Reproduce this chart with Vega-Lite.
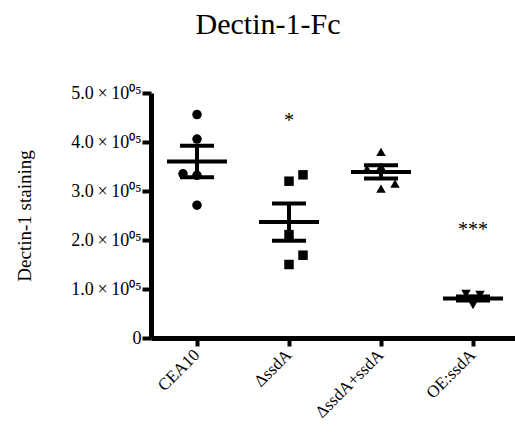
{
  "$schema": "https://vega.github.io/schema/vega-lite/v6.json",
  "width": 368,
  "height": 245,
  "padding": {"left": 15, "top": 10, "right": 0, "bottom": 5},
  "title": {"text": "Dectin-1-Fc", "font": "Liberation Serif", "fontSize": 30, "fontWeight": "normal", "color": "black", "anchor": "middle", "dx": -67, "offset": 44},
  "config": {
    "view": {"stroke": null},
    "axis": {"domainWidth": 5, "domainColor": "black", "tickWidth": 4, "tickColor": "black", "tickSize": 9, "labelPadding": 1, "grid": false, "labelFont": "Liberation Serif", "labelFontSize": 17, "labelColor": "black", "titleFont": "Liberation Serif", "titleFontSize": 19, "titleFontWeight": "normal", "titleColor": "black"}
  },
  "datasets": {
    "points": [
      {"group": "CEA10", "value": 456000, "col": "C"},
      {"group": "CEA10", "value": 406000, "col": "C"},
      {"group": "CEA10", "value": 335000, "col": "L"},
      {"group": "CEA10", "value": 332000, "col": "C"},
      {"group": "CEA10", "value": 271000, "col": "C"},
      {"group": "ΔssdA", "value": 320000, "col": "C"},
      {"group": "ΔssdA", "value": 333000, "col": "R"},
      {"group": "ΔssdA", "value": 211000, "col": "C"},
      {"group": "ΔssdA", "value": 169000, "col": "R"},
      {"group": "ΔssdA", "value": 150000, "col": "C"},
      {"group": "ΔssdA+ssdA", "value": 380000, "col": "C"},
      {"group": "ΔssdA+ssdA", "value": 345000, "col": "L"},
      {"group": "ΔssdA+ssdA", "value": 350000, "col": "C"},
      {"group": "ΔssdA+ssdA", "value": 315000, "col": "R"},
      {"group": "ΔssdA+ssdA", "value": 305000, "col": "C"},
      {"group": "OE:ssdA", "value": 90000, "col": "l"},
      {"group": "OE:ssdA", "value": 88000, "col": "r"},
      {"group": "OE:ssdA", "value": 67000, "col": "C"},
      {"group": "OE:ssdA", "value": 80000, "col": "C"},
      {"group": "OE:ssdA", "value": 78000, "col": "C"}
    ],
    "stars": [
      {"group": "ΔssdA", "value": 443000, "label": "*"},
      {"group": "OE:ssdA", "value": 220000, "label": "***"}
    ]
  },
  "encoding": {
    "x": {"field": "group", "type": "nominal", "sort": ["CEA10", "ΔssdA", "ΔssdA+ssdA", "OE:ssdA"],
      "scale": {"domain": ["CEA10", "ΔssdA", "ΔssdA+ssdA", "OE:ssdA"], "paddingInner": 0, "paddingOuter": 0},
      "axis": {"title": null, "labelAngle": -45, "labelAlign": "right", "labelBaseline": "middle", "labelPadding": 6, "tickSize": 8}},
    "y": {"field": "value", "type": "quantitative",
      "scale": {"domain": [0, 500000], "nice": false},
      "axis": {"title": "Dectin-1 staining", "titlePadding": 36, "labelFontSize": 18, "values": [0, 100000, 200000, 300000, 400000, 500000],
        "labelExpr": "datum.value == 0 ? '0' : format(datum.value/100000, '.1f') + '\u2009×\u200910⁰⁵'"}}
  },
  "layer": [
    {
      "data": {"name": "points"},
      "mark": {"type": "point", "filled": true, "color": "black", "opacity": 1, "size": 90},
      "encoding": {
        "xOffset": {"field": "col", "type": "nominal", "scale": {"type": "point", "domain": ["L", "l", "C", "r", "R"], "range": [32, 60], "padding": 0}},
        "shape": {"field": "group", "type": "nominal", "legend": null,
          "scale": {"domain": ["CEA10", "ΔssdA", "ΔssdA+ssdA", "OE:ssdA"], "range": ["circle", "square", "triangle-up", "triangle-down"]}}
      }
    },
    {
      "data": {"name": "points"},
      "mark": {"type": "tick", "color": "black", "size": 60, "thickness": 4, "opacity": 1},
      "encoding": {"y": {"aggregate": "mean", "field": "value", "type": "quantitative"}}
    },
    {
      "data": {"name": "points"},
      "mark": {"type": "errorbar", "extent": "stderr", "color": "black", "opacity": 1, "ticks": {"size": 34, "thickness": 4, "color": "black", "opacity": 1}, "rule": {"strokeWidth": 4, "color": "black", "opacity": 1}},
      "encoding": {"y": {"field": "value", "type": "quantitative"}}
    },
    {
      "data": {"name": "stars"},
      "mark": {"type": "text", "font": "Liberation Serif", "fontSize": 20, "color": "black", "baseline": "middle"},
      "encoding": {"text": {"field": "label"}}
    }
  ]
}
